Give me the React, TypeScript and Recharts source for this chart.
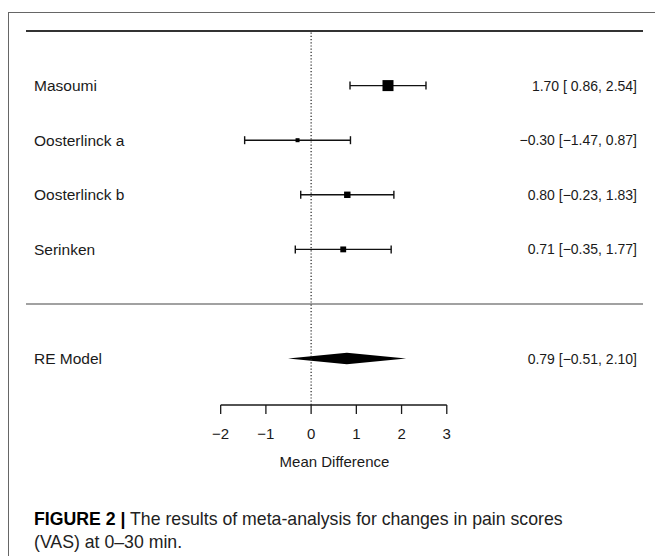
import React from "react";
import {
  ComposedChart,
  Scatter,
  ErrorBar,
  Area,
  XAxis,
  YAxis,
  ReferenceLine,
} from "recharts";

const studies = ["Masoumi", "Oosterlinck a", "Oosterlinck b", "Serinken"];
const estimates = [1.7, -0.3, 0.8, 0.71];
const lowerCI = [0.86, -1.47, -0.23, -0.35];
const upperCI = [2.54, 0.87, 1.83, 1.77];
const studyRows = [4, 3, 2, 1];

const pooledLabel = "RE Model";
const pooledEstimate = 0.79;
const pooledLower = -0.51;
const pooledUpper = 2.1;
const pooledRow = -1;

const xTicks = [-2, -1, 0, 1, 2, 3];

// layout
const X_DOMAIN: [number, number] = [-6.305, 7.339];
const Y_DOMAIN: [number, number] = [-1.85, 5];
const LABEL_X = 34;
const TEXT_RIGHT = 637;
const DIAMOND_HALF = 0.105;
const FONT = '"Liberation Sans", Arial, Helvetica, sans-serif';
const INK = "#1a1a1a";

const fmt = (v: number) => v.toFixed(2).replace("-", "\u2212");
const lowWidth = Math.max(...[...lowerCI, pooledLower].map((v) => fmt(v).length));
const ciText = (e: number, lo: number, hi: number) =>
  `${fmt(e)} [${fmt(lo).padStart(lowWidth, " ")}, ${fmt(hi)}]`;

// marker size follows inverse standard error, like metafor
const invSe = lowerCI.map((lo, i) => (2 * 1.96) / (upperCI[i] - lo));
const wMin = Math.min(...invSe);
const wMax = Math.max(...invSe);

const studyData = studies.map((name, i) => ({
  name,
  x: estimates[i],
  y: studyRows[i],
  err: [estimates[i] - lowerCI[i], upperCI[i] - estimates[i]],
  w: (invSe[i] - wMin) / (wMax - wMin),
}));

const diamondData = [
  { x: pooledLower, band: [pooledRow, pooledRow] },
  { x: pooledEstimate, band: [pooledRow - DIAMOND_HALF, pooledRow + DIAMOND_HALF] },
  { x: pooledUpper, band: [pooledRow, pooledRow] },
];

const rowTable = [
  ...studies.map((name, i) => ({
    row: studyRows[i],
    name,
    text: ciText(estimates[i], lowerCI[i], upperCI[i]),
  })),
  { row: pooledRow, name: pooledLabel, text: ciText(pooledEstimate, pooledLower, pooledUpper) },
];

function RowTick(props: any) {
  const { y, payload } = props;
  const r = rowTable.find((d) => Math.abs(d.row - payload.value) < 1e-6);
  if (!r) return <g />;
  return (
    <g>
      <text x={LABEL_X} y={y} dy="0.36em" fontSize={15.5} fill={INK} fontFamily={FONT}>
        {r.name}
      </text>
      <text
        x={TEXT_RIGHT}
        y={y}
        dy="0.36em"
        fontSize={14}
        fill={INK}
        textAnchor="end"
        fontFamily={FONT}
        style={{ whiteSpace: "pre" }}
      >
        {r.text}
      </text>
    </g>
  );
}

function Box(props: any) {
  const { cx, cy, payload } = props;
  const s = 4 + payload.w * 7;
  return <rect x={cx - s / 2} y={cy - s / 2} width={s} height={s} fill="#000" />;
}

export default function App() {
  return (
    <div
      style={{
        position: "absolute",
        left: 0,
        top: 0,
        width: 655,
        height: 556,
        background: "#fff",
        overflow: "hidden",
        fontFamily: FONT,
      }}
    >
      <div
        style={{
          position: "absolute",
          left: 8,
          top: 12,
          right: -2,
          bottom: -2,
          borderLeft: "1px solid #666",
          borderTop: "1px solid #666",
        }}
      />
      <div style={{ position: "absolute", left: 0, top: 0 }}>
        <ComposedChart
          width={655}
          height={480}
          data={diamondData}
          margin={{ top: 31, right: 12, bottom: 8, left: 16 }}
        >
          <XAxis
            type="number"
            dataKey="x"
            domain={X_DOMAIN}
            allowDataOverflow
            ticks={xTicks}
            interval={0}
            axisLine={false}
            tickLine={{ stroke: INK, strokeWidth: 1.3 }}
            tickSize={9}
            tickMargin={14}
            tick={{ fontSize: 15, fill: INK, fontFamily: FONT }}
            tickFormatter={(v: number) => String(v).replace("-", "\u2212")}
            height={67}
            label={{
              value: "Mean Difference",
              position: "insideBottom",
              offset: 5,
              fontSize: 15,
              fill: INK,
              fontFamily: FONT,
            }}
          />
          <YAxis
            type="number"
            dataKey="y"
            domain={Y_DOMAIN}
            allowDataOverflow
            ticks={[...studyRows, pooledRow]}
            interval={0}
            width={10}
            axisLine={false}
            tickLine={false}
            tick={(p: any) => <RowTick {...p} />}
          />
          <ReferenceLine y={Y_DOMAIN[1]} stroke="#333" strokeWidth={2} />
          <ReferenceLine y={0} stroke="#444" strokeWidth={1.2} />
          <ReferenceLine x={0} stroke="#222" strokeWidth={1.2} strokeDasharray="1.2 2" />
          <ReferenceLine
            segment={[
              { x: xTicks[0], y: Y_DOMAIN[0] },
              { x: xTicks[xTicks.length - 1], y: Y_DOMAIN[0] },
            ]}
            stroke={INK}
            strokeWidth={1.3}
          />
          <Area
            type="linear"
            dataKey="band"
            stroke="none"
            fill="#000"
            fillOpacity={1}
            isAnimationActive={false}
            dot={false}
            activeDot={false}
          />
          <Scatter data={studyData} shape={<Box />} isAnimationActive={false}>
            <ErrorBar
              dataKey="err"
              direction="x"
              width={4}
              stroke="#111"
              strokeWidth={1.4}
              isAnimationActive={false}
            />
          </Scatter>
        </ComposedChart>
      </div>
      <div
        style={{
          position: "absolute",
          left: LABEL_X,
          top: 508,
          fontSize: 17.7,
          lineHeight: "23px",
          color: "#222",
          whiteSpace: "nowrap",
        }}
      >
        <span style={{ fontWeight: "bold", color: "#000" }}>FIGURE 2 |</span> The results of
        meta-analysis for changes in pain scores
        <br />
        (VAS) at 0–30 min.
      </div>
    </div>
  );
}
